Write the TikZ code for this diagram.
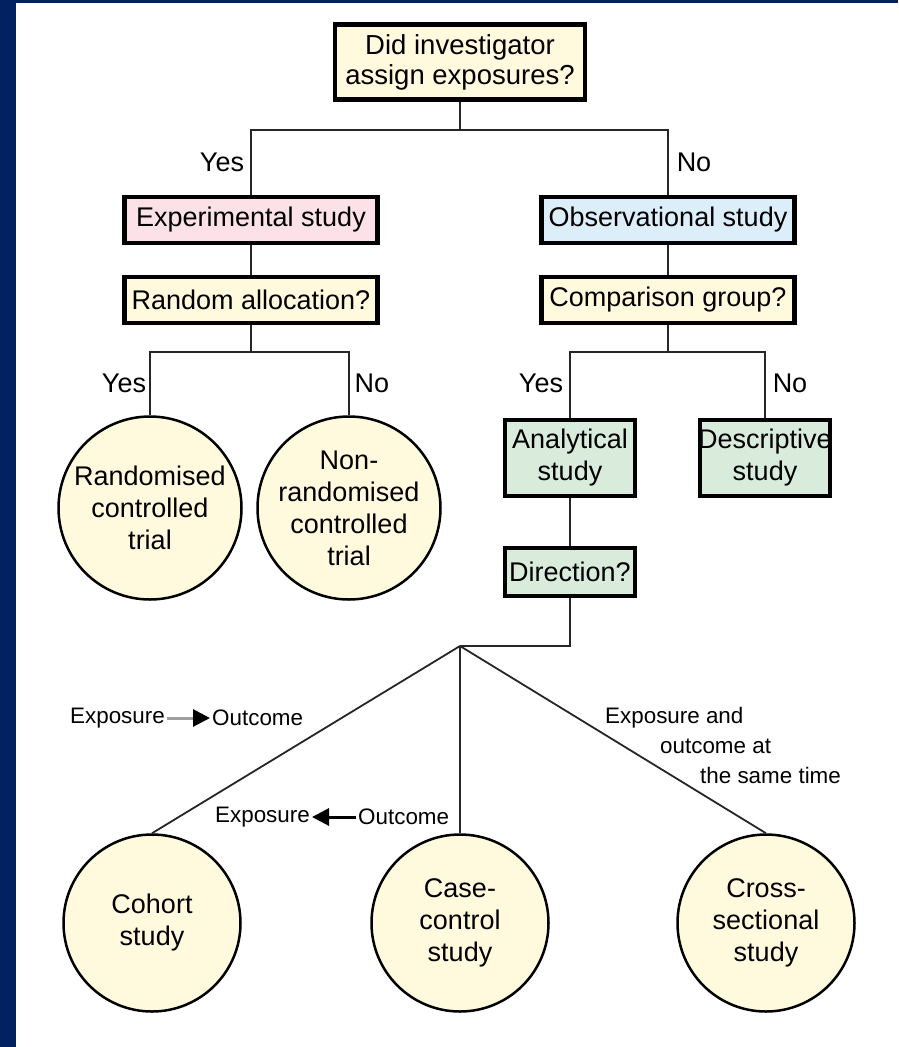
\documentclass[tikz,border=0pt]{standalone}
\usepackage{fontspec}
\setmainfont{Liberation Sans}
\usetikzlibrary{arrows.meta}

\definecolor{navy}{RGB}{1,33,96}
\definecolor{cream}{RGB}{255,250,222}
\definecolor{pinkfill}{RGB}{252,225,232}
\definecolor{bluefill}{RGB}{220,238,250}
\definecolor{greenfill}{RGB}{217,235,219}

\newcommand\mainsize{\fontsize{27}{32}\selectfont}
\newcommand\labelsize{\fontsize{22.4}{28.5}\selectfont}

\begin{document}
\begin{tikzpicture}[x=1pt,y=-1pt,
  box/.style={draw=black, line width=4.5pt, inner sep=0pt, align=center, font=\mainsize},
  qbox/.style={box, fill=cream},
  disc/.style={circle, draw=black, line width=2.5pt, fill=cream, inner sep=0pt,
               align=center, font=\mainsize},
  conn/.style={line width=1.8pt, draw=black!85},
  answer/.style={font=\mainsize, inner sep=0pt},
  dirlabel/.style={font=\labelsize, inner sep=2pt},
  dirarrow/.style={line width=3pt, -{Triangle[length=17pt,width=17pt,color=black]}}
]
% page and frame
\fill[white] (0,0) rectangle (898,1047);
\useasboundingbox (0,0) rectangle (898,1047);
\fill[navy] (0,0) rectangle (16,1047);
\fill[navy] (0,0) rectangle (898,3);

% first question
\node[qbox, minimum width=250, minimum height=75, font=\fontsize{27.5}{30}\selectfont]
  (q1) at (460,62) {Did investigator\\assign exposures?};

% study type
\node[box, fill=pinkfill, minimum width=253, minimum height=46] (exp) at (251,220) {Experimental study};
\node[box, fill=bluefill, minimum width=253, minimum height=46] (obs) at (668,220) {Observational study};

% second questions
\node[qbox, minimum width=253, minimum height=46] (rand) at (251,300) {Random allocation?};
\node[qbox, minimum width=253, minimum height=46] (comp) at (668,300) {Comparison group?};

% trials
\node[disc, minimum size=183] (rct) at (150,508) {Randomised\\controlled\\trial};
\node[disc, minimum size=183] (nrct) at (349,508) {Non-\\randomised\\controlled\\trial};

% observational branches
\node[box, fill=greenfill, minimum width=130, minimum height=76] (ana) at (570,458) {Analytical\\study};
\node[box, fill=greenfill, minimum width=130, minimum height=76] (desc) at (765,458) {\makebox[120pt]{Descriptive}\\study};
\node[box, fill=greenfill, minimum width=130, minimum height=48] (dir) at (570,572) {Direction?};

% analytical designs
\node[disc, minimum size=177] (coh) at (152,923) {Cohort\\study};
\node[disc, minimum size=177] (cc) at (460,923) {Case-\\control\\study};
\node[disc, minimum size=177] (cs) at (766,923) {Cross-\\sectional\\study};

% junction points
\coordinate (j1) at (460,130);
\coordinate (j2) at (251,352);
\coordinate (j3) at (668,352);
\coordinate (j4) at (570,646);
\coordinate (j5) at (460,646);

% connectors
\draw[conn] (q1.south) -- (j1);
\draw[conn] (j1) -| (exp.north);
\draw[conn] (j1) -| (obs.north);
\draw[conn] (exp) -- (rand);
\draw[conn] (obs) -- (comp);
\draw[conn] (rand.south) -- (j2);
\draw[conn] (j2) -| (rct.north);
\draw[conn] (j2) -| (nrct.north);
\draw[conn] (comp.south) -- (j3);
\draw[conn] (j3) -| (ana.north);
\draw[conn] (j3) -| (desc.north);
\draw[conn] (ana) -- (dir);
\draw[conn] (dir.south) -- (j4) -- (j5);
\draw[conn] (j5) -- (coh.north);
\draw[conn] (j5) -- (cc.north);
\draw[conn] (j5) -- (cs.north);

% answers
\node[answer] (y1) at (222,162) {Yes};
\node[answer] (n1) at (694,162) {No};
\node[answer] (y2) at (124,383) {Yes};
\node[answer] (n2) at (372,383) {No};
\node[answer] (y3) at (541,383) {Yes};
\node[answer] (n3) at (790,383) {No};

% direction labels
\node[dirlabel, anchor=east] (e1) at (167,718) {Exposure};
\node[dirlabel, anchor=west] (o1) at (210,718) {Outcome};
\draw[dirarrow, draw=gray!75] (e1.east) -- (o1.west);

\node[dirlabel, anchor=east] (e2) at (312,817) {Exposure};
\node[dirlabel, anchor=west] (o2) at (356,817) {Outcome};
\draw[dirarrow, draw=black] (o2.west) -- (e2.east);

\node[dirlabel, anchor=west] (s1) at (603,718) {Exposure and};
\node[dirlabel, anchor=west] (s2) at (658,746) {outcome at};
\node[dirlabel, anchor=west] (s3) at (698,775) {the same time};
\end{tikzpicture}
\end{document}
